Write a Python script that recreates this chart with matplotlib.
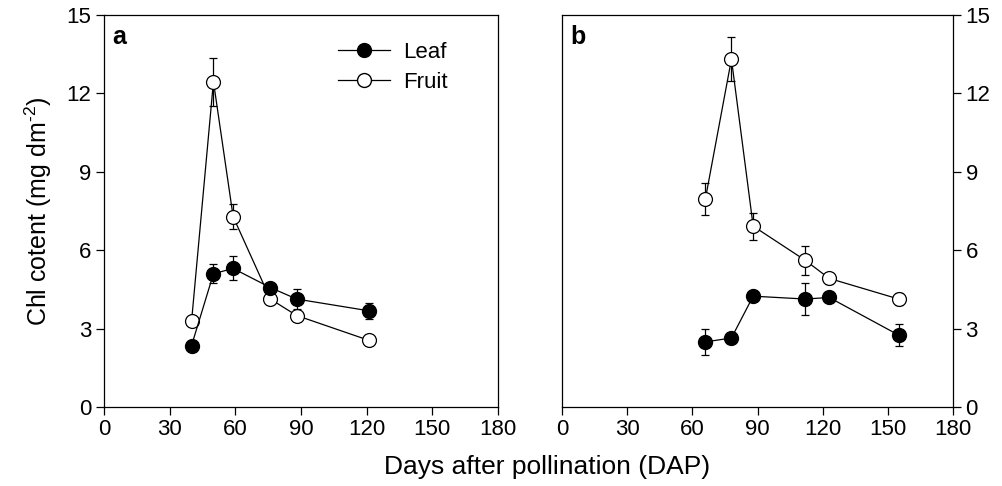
import matplotlib
matplotlib.use("Agg")
import matplotlib.pyplot as plt
from matplotlib.lines import Line2D

plt.rcParams['font.family'] = ['Liberation Sans', 'DejaVu Sans']
plt.rcParams['mathtext.fontset'] = 'custom'
plt.rcParams['mathtext.rm'] = 'Liberation Sans'
plt.rcParams['axes.unicode_minus'] = False

# panel a
a_leaf_dap = [40, 50, 59, 76, 88, 121]
a_leaf = [2.35, 5.1, 5.3, 4.57, 4.13, 3.68]
a_leaf_err = [0.1, 0.37, 0.46, 0.12, 0.4, 0.3]
a_fruit_dap = [40, 50, 59, 76, 88, 121]
a_fruit = [3.28, 12.45, 7.28, 4.13, 3.5, 2.55]
a_fruit_err = [0.1, 0.92, 0.48, 0.1, 0.1, 0.1]

# panel b
b_leaf_dap = [66, 78, 88, 112, 123, 155]
b_leaf = [2.49, 2.64, 4.24, 4.13, 4.19, 2.75]
b_leaf_err = [0.5, 0.1, 0.1, 0.62, 0.12, 0.43]
b_fruit_dap = [66, 78, 88, 112, 123, 155]
b_fruit = [7.96, 13.31, 6.92, 5.61, 4.92, 4.13]
b_fruit_err = [0.6, 0.85, 0.52, 0.56, 0.2, 0.22]

xticks = [0, 30, 60, 90, 120, 150, 180]
yticks = [0, 3, 6, 9, 12, 15]

fig = plt.figure(figsize=(10.02, 4.86), dpi=100)
ax1 = fig.add_axes([0.1038, 0.1626, 0.3932, 0.8066])
ax2 = fig.add_axes([0.5609, 0.1626, 0.3902, 0.8066])

style = dict(color='black', lw=0.9, ms=10, capsize=3, elinewidth=0.9, capthick=0.9)

for ax, ld, l, le, fd, f, fe in [
        (ax1, a_leaf_dap, a_leaf, a_leaf_err, a_fruit_dap, a_fruit, a_fruit_err),
        (ax2, b_leaf_dap, b_leaf, b_leaf_err, b_fruit_dap, b_fruit, b_fruit_err)]:
    ax.errorbar(fd, f, yerr=fe, fmt='-o', mfc='white', mec='black', mew=0.9,
                zorder=3, **style)
    ax.errorbar(ld, l, yerr=le, fmt='-o', mfc='black', mec='black',
                zorder=4, **style)
    ax.set_xlim(0, 180)
    ax.set_ylim(0, 15)
    ax.set_xticks(xticks)
    ax.set_yticks(yticks)
    ax.tick_params(labelsize=16, direction='out', length=6, width=0.9, pad=3)
    for s in ax.spines.values():
        s.set_linewidth(0.9)

ax1.tick_params(axis='y', left=True, right=False)
ax2.yaxis.tick_right()
ax2.tick_params(axis='y', left=False, right=True)

ax1.text(0.022, 0.975, 'a', transform=ax1.transAxes, fontsize=18,
         fontweight='bold', va='top', ha='left')
ax2.text(0.022, 0.975, 'b', transform=ax2.transAxes, fontsize=18,
         fontweight='bold', va='top', ha='left')

handles = [Line2D([], [], color='black', lw=0.9, marker='o', ms=10, mfc='black', mec='black'),
           Line2D([], [], color='black', lw=0.9, marker='o', ms=10, mfc='white', mec='black')]
ax1.legend(handles, ['Leaf', 'Fruit'], loc='upper left', bbox_to_anchor=(0.594, 0.932),
           frameon=False, fontsize=16, handlelength=2.35, handletextpad=0.6,
           labelspacing=0.42, borderaxespad=0, borderpad=0)

ax1.set_ylabel('Chl cotent (mg dm$^{\\text{-2}}$)', fontsize=18, labelpad=9)
fig.text(0.546, 0.04, 'Days after pollination (DAP)', fontsize=19,
         ha='center', va='center')

fig.savefig('out.png', dpi=100)
